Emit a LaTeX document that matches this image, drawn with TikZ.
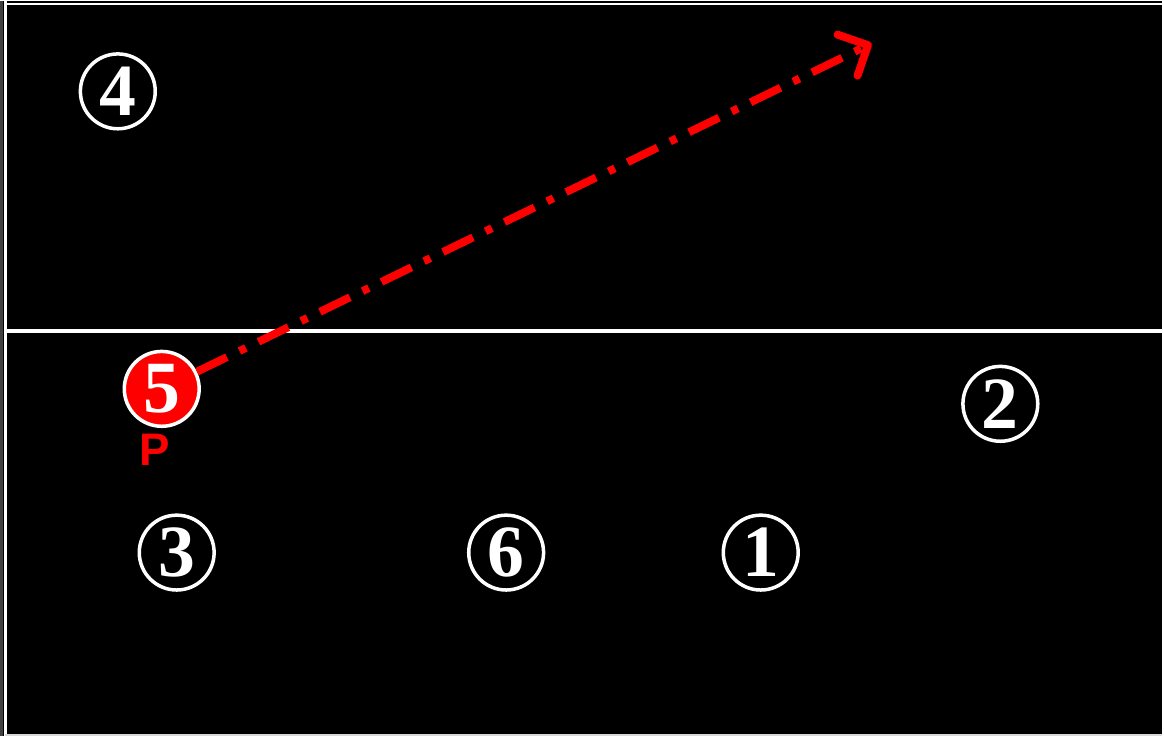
\documentclass[tikz,border=0pt]{standalone}
\usepackage{fontspec}
\setmainfont{Liberation Serif}
\newfontfamily\sansf{Liberation Sans}
\usetikzlibrary{arrows.meta,positioning}

\tikzset{
  player/.style={circle,draw=white,line width=2pt,minimum size=1.5cm,inner sep=0pt,
    text=white,font=\fontsize{42}{42}\selectfont\bfseries},
  setter/.style={player,fill=red},
  courtline/.style={white,line width=1.7pt},
  attack/.style={red,line width=4.5pt,dash pattern=on 19pt off 8pt on 4pt off 8pt,
    -{Straight Barb[length=13pt,width=26pt,line width=4.5pt,round]}}
}

\begin{document}
\begin{tikzpicture}[x=0.02cm,y=-0.02cm]
\fill[black](0,0)rectangle(1164,736);
\fill[black!75](0,0)rectangle(3,736);
\draw[courtline](5.5,0)--(5.5,736);
\draw[courtline](5.5,2.5)--(1164,2.5);
\draw[white!85!black,line width=1.2pt](5.5,734.5)--(1164,734.5);
%% net
\draw[courtline,line width=2.2pt](5.5,330)--(1164,330);
%% players
\node[player](p4)at(118,90){4};
\node[player](p2)at(1002,403){2};
\node[player](p3)at(177,552){3};
\node[player](p6)at(507,552){6};
\node[player](p1)at(762,552){1};
\node[setter](p5)at(162,388){5};
\node[text=red,font=\sansf\fontsize{26}{26}\selectfont\bfseries,below=0pt of p5,xshift=-4pt](lp){P};
\coordinate(tip)at(873,42);
\draw[attack](p5)--(tip);
\end{tikzpicture}
\end{document}
